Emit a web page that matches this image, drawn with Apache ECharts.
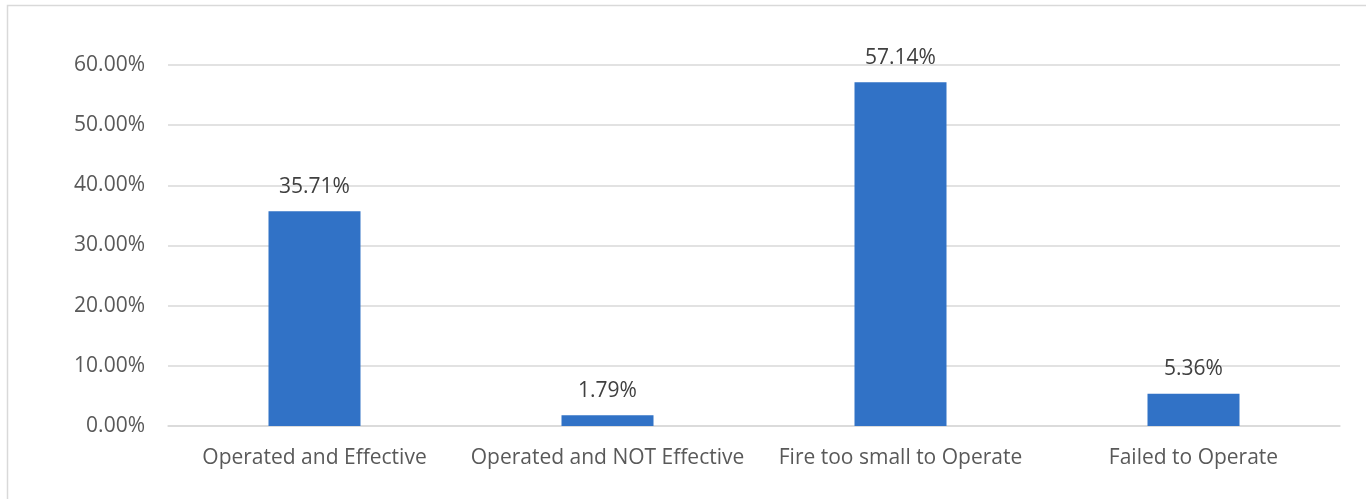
<!DOCTYPE html>
<html><head><meta charset="utf-8">
<script src="https://cdn.jsdelivr.net/npm/echarts@6/dist/echarts.min.js"></script>
<style>html,body{margin:0;padding:0;background:#fff}#c{width:1366px;height:499px}</style>
</head><body><div id="c"></div>
<script>
const categories = ["Operated and Effective", "Operated and NOT Effective", "Fire too small to Operate", "Failed to Operate"];
const values = [35.71, 1.79, 57.14, 5.36];
const yTicks = [0, 10, 20, 30, 40, 50, 60];

const chart = echarts.init(document.getElementById('c'), null, {renderer: 'canvas'});
const font = '"Open Sans", "Noto Sans", sans-serif';
const fs = 21;
chart.setOption({
  animation: false,
  graphic: [{type: 'rect', shape: {x: 7.5, y: 5.5, width: 1370, height: 500}, style: {fill: 'none', stroke: '#d9d9d9', lineWidth: 1.5}, silent: true}],
  grid: {left: 168, right: 26, top: 65, bottom: 73, containLabel: false},
  xAxis: {
    type: 'category', data: categories,
    axisLine: {show: true, lineStyle: {color: '#d9d9d9', width: 1.5}},
    axisTick: {show: false},
    axisLabel: {color: '#595959', fontSize: fs, fontFamily: font, margin: 22, interval: 0, hideOverlap: false}
  },
  yAxis: {
    type: 'value', min: yTicks[0], max: yTicks[yTicks.length - 1], interval: 10,
    axisLine: {show: false}, axisTick: {show: false},
    splitLine: {lineStyle: {color: '#d9d9d9', width: 1.5}},
    axisLabel: {color: '#595959', fontSize: fs, fontFamily: font, margin: 23,
      formatter: v => v.toFixed(2) + '%'}
  },
  series: [{
    type: 'bar', data: values, barWidth: 92,
    itemStyle: {color: '#3172c6'},
    label: {show: true, position: 'top', distance: 14, color: '#404040', fontSize: fs, fontFamily: font,
      formatter: p => p.value.toFixed(2) + '%'}
  }]
});
</script></body></html>
